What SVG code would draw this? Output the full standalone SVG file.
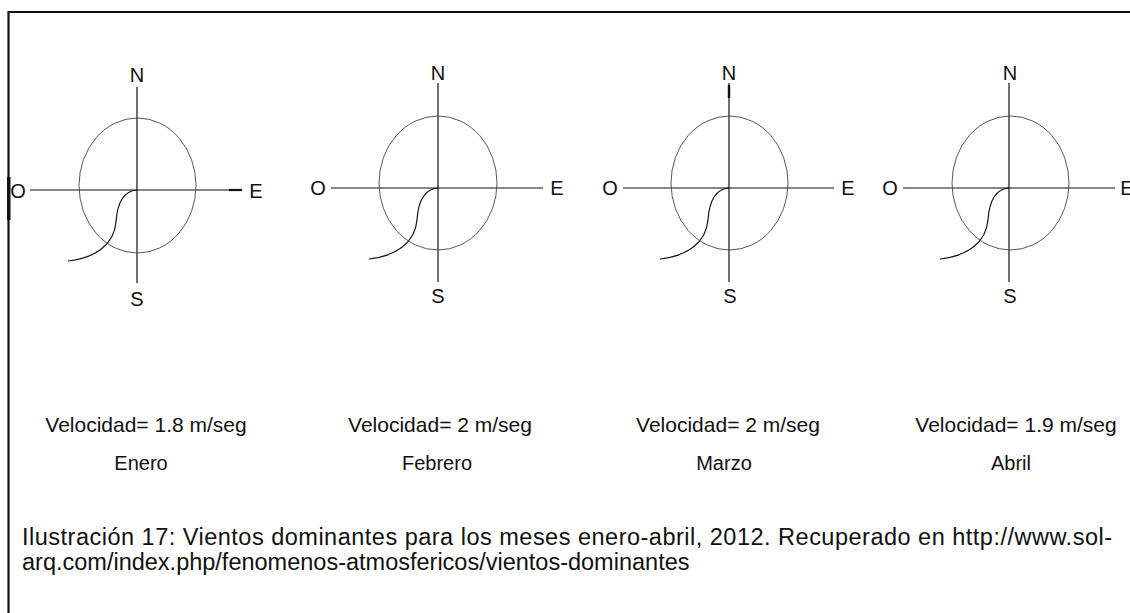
<svg xmlns="http://www.w3.org/2000/svg" width="1130" height="613" viewBox="0 0 1130 613">
<style>
.lbl{font-family:"Liberation Sans",Arial,sans-serif;font-size:20px;fill:#111;text-anchor:middle}
.vel{font-family:"Liberation Sans",Arial,sans-serif;font-size:21px;fill:#111;text-anchor:middle}
.mon{font-family:"Liberation Sans",Arial,sans-serif;font-size:20px;fill:#111;text-anchor:middle}
.cap{font-family:"Liberation Sans",Arial,sans-serif;font-size:23.5px;fill:#111}
.axis{stroke:#111;stroke-width:1.2;fill:none}
.ell{stroke:#444;stroke-width:0.9;fill:none}
.wind{stroke:#111;stroke-width:1.2;fill:none}
</style>
<defs>
<path id="windpath" d="M0,0 C-15,1 -20,17 -21,32 C-23,55 -42,68 -69,71"/>
</defs>
<rect width="1130" height="613" fill="#fff"/>
<g id="frame">
<line x1="8" y1="12" x2="1130" y2="12" stroke="#111" stroke-width="2.2"/>
<line x1="8.5" y1="11" x2="8.5" y2="613" stroke="#111" stroke-width="2.2"/>
<rect x="7" y="177" width="3.5" height="43" fill="#111"/>
</g>
<g id="connectors">
<line class="axis" x1="30" y1="190" x2="242" y2="190"/>
<line x1="229" y1="190" x2="242" y2="190" stroke="#111" stroke-width="2.2"/>
<line class="axis" x1="137" y1="87" x2="137" y2="283"/>
<use href="#windpath" class="wind" transform="translate(137,190)"/>
<line class="axis" x1="331" y1="188" x2="543" y2="188"/>
<line class="axis" x1="438" y1="83" x2="438" y2="282"/>
<use href="#windpath" class="wind" transform="translate(438,188)"/>
<line class="axis" x1="623" y1="188" x2="834" y2="188"/>
<line class="axis" x1="729" y1="83" x2="729" y2="282"/>
<line x1="729" y1="85" x2="729" y2="98" stroke="#111" stroke-width="2.4"/>
<use href="#windpath" class="wind" transform="translate(729,188)"/>
<line class="axis" x1="903" y1="188" x2="1115" y2="188"/>
<line class="axis" x1="1009" y1="83" x2="1009" y2="282"/>
<use href="#windpath" class="wind" transform="translate(1009,188)"/>
</g>
<g id="compass-enero">
<ellipse class="ell" cx="137.5" cy="185.5" rx="58.5" ry="67.5"/>
<text class="lbl" x="137" y="82">N</text>
<text class="lbl" x="137" y="306">S</text>
<text class="lbl" x="18" y="198">O</text>
<text class="lbl" x="256" y="198">E</text>
</g>
<g id="compass-febrero">
<ellipse class="ell" cx="438" cy="183" rx="59" ry="67"/>
<text class="lbl" x="438" y="80">N</text>
<text class="lbl" x="438" y="303">S</text>
<text class="lbl" x="318" y="195">O</text>
<text class="lbl" x="557" y="195">E</text>
</g>
<g id="compass-marzo">
<ellipse class="ell" cx="729.5" cy="183" rx="58.5" ry="67"/>
<text class="lbl" x="729" y="80">N</text>
<text class="lbl" x="730" y="303">S</text>
<text class="lbl" x="610" y="195">O</text>
<text class="lbl" x="848" y="195">E</text>
</g>
<g id="compass-abril">
<ellipse class="ell" cx="1010.5" cy="183" rx="58.5" ry="67"/>
<text class="lbl" x="1010" y="80">N</text>
<text class="lbl" x="1010" y="303">S</text>
<text class="lbl" x="890" y="195">O</text>
<text class="lbl" x="1127" y="195">E</text>
</g>
<g id="labels">
<text class="vel" x="146" y="432">Velocidad= 1.8 m/seg</text>
<text class="mon" x="141" y="470">Enero</text>
<text class="vel" x="440" y="432">Velocidad= 2 m/seg</text>
<text class="mon" x="437" y="470">Febrero</text>
<text class="vel" x="728" y="432">Velocidad= 2 m/seg</text>
<text class="mon" x="724" y="470">Marzo</text>
<text class="vel" x="1016" y="432">Velocidad= 1.9 m/seg</text>
<text class="mon" x="1011" y="470">Abril</text>
</g>
<g id="caption">
<text class="cap" x="22" y="545" textLength="1090" lengthAdjust="spacing">Ilustración 17: Vientos dominantes para los meses enero-abril, 2012. Recuperado en http://www.sol-</text>
<text class="cap" x="22" y="570">arq.com/index.php/fenomenos-atmosfericos/vientos-dominantes</text>
</g>
</svg>
